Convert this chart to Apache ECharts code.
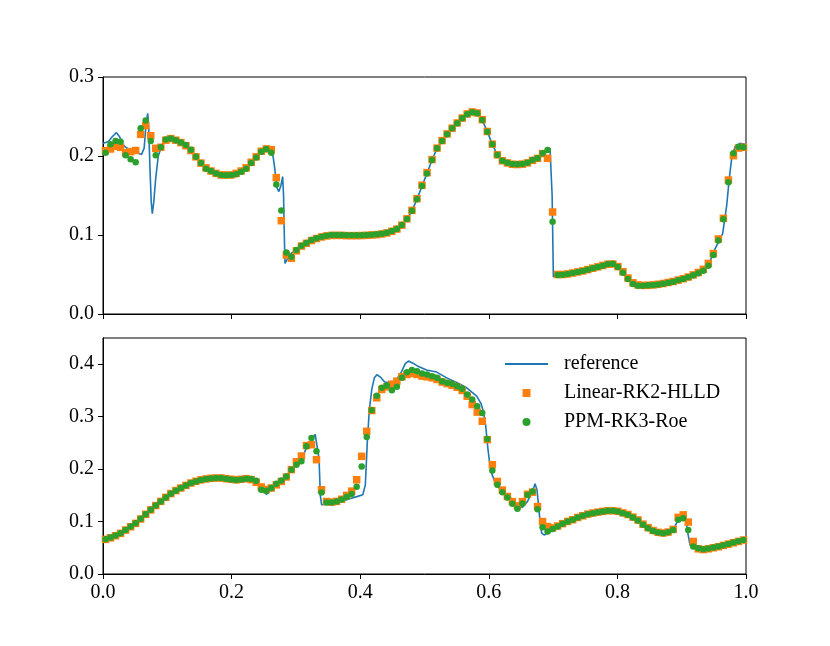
<!DOCTYPE html>
<html>
<head>
<meta charset="utf-8">
<script src="https://cdn.jsdelivr.net/npm/echarts@6/dist/echarts.min.js"></script>
<style>
html,body{margin:0;padding:0;background:#fff;}
#chart{width:830px;height:646px;}
</style>
</head>
<body>
<div id="chart"></div>
<script>
// Cell count (cell-centred sample positions)
const nCells = 128;
const tickLabelsX = ['0.0','0.2','0.4','0.6','0.8','1.0'];
const seriesNames = ['reference','Linear-RK2-HLLD','PPM-RK3-Roe'];

// Top panel
const topOrange = [0.2067,0.2089,0.2123,0.2110,0.2040,0.2055,0.2070,0.2274,0.2384,0.2257,0.2097,0.2110,
0.220,0.222,0.220,0.217,0.213,0.207,0.199,0.191,0.185,0.181,0.178,0.176,
0.176,0.176,0.178,0.181,0.185,0.192,0.199,0.206,0.209,0.208,0.1726,0.1181,
0.0747,0.0705,0.080,0.086,0.0895,0.093,0.0955,0.0975,0.0988,0.0995,0.0995,0.0995,
0.0992,0.0992,0.0992,0.0993,0.0996,0.1000,0.1005,0.1013,0.1026,0.1047,0.1075,0.1125,
0.1205,0.1312,0.1460,0.1630,0.1790,0.1955,0.2100,0.2195,0.2280,0.2352,0.2418,0.2480,
0.2532,0.2558,0.2545,0.2460,0.2310,0.2150,0.2015,0.1940,0.1912,0.1895,0.1892,0.1897,
0.1913,0.1945,0.1970,0.2030,0.1970,0.1291,0.0500,0.0500,0.0507,0.0519,0.0532,0.0545,
0.0562,0.0580,0.0597,0.0614,0.0630,0.0632,0.0600,0.0535,0.0455,0.0395,0.0368,0.0362,
0.0363,0.0368,0.0376,0.0386,0.0399,0.0412,0.0429,0.0447,0.0468,0.0495,0.0525,0.0565,
0.0640,0.0765,0.0950,0.1211,0.1696,0.2004,0.2100,0.2110];

const topGreen = [0.204,0.215,0.219,0.218,0.201,0.196,0.192,0.235,0.245,0.219,0.201,0.211,
0.221,0.222,0.220,0.217,0.214,0.208,0.199,0.191,0.184,0.181,0.178,0.176,
0.1755,0.176,0.177,0.180,0.184,0.191,0.198,0.2055,0.209,0.204,0.164,0.131,
0.078,0.0726,0.081,0.0865,0.090,0.0937,0.0958,0.0979,0.0992,0.100,0.100,0.100,
0.0996,0.0996,0.0996,0.0996,0.100,0.1004,0.1009,0.1017,0.103,0.1051,0.1076,0.1127,
0.1203,0.1308,0.1451,0.162,0.178,0.195,0.2097,0.219,0.2274,0.235,0.2414,0.2477,
0.2528,0.2553,0.254,0.2456,0.2308,0.2148,0.2013,0.194,0.1916,0.1899,0.1895,0.1899,
0.1916,0.1949,0.197,0.2034,0.2076,0.1169,0.0494,0.0498,0.0506,0.0519,0.0532,0.0544,
0.0561,0.0578,0.0595,0.0612,0.0633,0.0637,0.0595,0.0523,0.0443,0.038,0.0359,0.0359,
0.0363,0.0367,0.0375,0.0384,0.0397,0.0409,0.0426,0.0443,0.0464,0.0489,0.0515,0.0549,
0.0612,0.0747,0.0929,0.1198,0.1667,0.2034,0.2118,0.2110];

const topRef = [[0.000,0.216],[0.008,0.218],[0.015,0.225],[0.021,0.2295],[0.026,0.224],[0.031,0.214],[0.037,0.210],[0.045,0.207],[0.053,0.204],[0.060,0.202],[0.064,0.210],[0.067,0.240],[0.0695,0.254],[0.071,0.238],[0.073,0.185],[0.075,0.142],[0.0767,0.127],[0.079,0.142],[0.082,0.172],[0.086,0.200],[0.092,0.215],[0.0977,0.221],[0.1055,0.2225],[0.1133,0.2205],[0.1211,0.217],[0.1289,0.213],[0.1367,0.207],[0.1445,0.199],[0.1523,0.191],[0.1602,0.185],[0.168,0.181],[0.1758,0.178],[0.1836,0.176],[0.1914,0.1755],[0.1992,0.176],[0.207,0.1775],[0.2148,0.1805],[0.2227,0.185],[0.2305,0.191],[0.2383,0.198],[0.2461,0.205],[0.2539,0.209],[0.2600,0.210],[0.2635,0.205],[0.2670,0.185],[0.2705,0.160],[0.2735,0.155],[0.2765,0.162],[0.2794,0.174],[0.2808,0.150],[0.2820,0.100],[0.2830,0.064],[0.2850,0.066],[0.2872,0.0705],[0.2930,0.077],[0.3008,0.081],[0.3086,0.0865],[0.3164,0.090],[0.3242,0.0937],[0.332,0.0958],[0.3398,0.0979],[0.3477,0.0992],[0.3555,0.100],[0.3711,0.100],[0.3867,0.0996],[0.4023,0.0996],[0.418,0.1004],[0.4258,0.101],[0.4336,0.1017],[0.4414,0.103],[0.4492,0.1051],[0.457,0.1076],[0.4648,0.1127],[0.4727,0.1203],[0.4805,0.1308],[0.4883,0.1451],[0.4961,0.162],[0.5039,0.178],[0.5117,0.195],[0.5195,0.2097],[0.5273,0.219],[0.5352,0.2274],[0.543,0.235],[0.5508,0.2414],[0.5586,0.2477],[0.5664,0.2528],[0.5742,0.2555],[0.582,0.254],[0.5898,0.2456],[0.5977,0.2308],[0.6055,0.2148],[0.6133,0.2013],[0.6211,0.194],[0.6289,0.1916],[0.6367,0.1899],[0.6445,0.1895],[0.6523,0.1899],[0.6602,0.1916],[0.668,0.1949],[0.6758,0.197],[0.6836,0.2034],[0.6914,0.2076],[0.6952,0.2097],[0.6985,0.150],[0.7004,0.047],[0.7070,0.0494],[0.7148,0.0498],[0.7227,0.0506],[0.7305,0.0519],[0.7383,0.0532],[0.7461,0.0544],[0.7539,0.0561],[0.7617,0.0578],[0.7695,0.0595],[0.7773,0.0612],[0.7852,0.0633],[0.793,0.0637],[0.8008,0.0595],[0.8086,0.0523],[0.8164,0.0443],[0.8242,0.038],[0.832,0.0359],[0.8398,0.0359],[0.8477,0.0363],[0.8555,0.0367],[0.8633,0.0375],[0.8711,0.0384],[0.8789,0.0397],[0.8867,0.0409],[0.8945,0.0426],[0.9023,0.0443],[0.9102,0.0464],[0.918,0.0489],[0.9258,0.0515],[0.9336,0.0549],[0.9414,0.0612],[0.9507,0.0805],[0.957,0.0911],[0.9637,0.1017],[0.970,0.1376],[0.974,0.1713],[0.9777,0.197],[0.983,0.2118],[0.9907,0.216],[1.000,0.2145]];

// Bottom panel
const botOrange = [0.0660,0.0690,0.0730,0.0775,0.0838,0.0900,0.0965,0.1048,0.1138,0.1222,0.1305,0.1385,
0.1462,0.1533,0.1590,0.1640,0.1690,0.1735,0.1768,0.1795,0.1812,0.1825,0.1830,0.1830,
0.1818,0.1806,0.1795,0.1806,0.1818,0.1800,0.1750,0.1660,0.1610,0.1640,0.1700,0.1765,
0.1850,0.1990,0.2140,0.2250,0.2449,0.2465,0.2180,0.1606,0.1383,0.1370,0.1385,0.1425,
0.1500,0.1580,0.1797,0.2244,0.2721,0.3117,0.3359,0.3518,0.3569,0.3620,0.3677,0.3760,
0.3805,0.3824,0.3805,0.3773,0.3760,0.3741,0.3709,0.3660,0.3630,0.3600,0.3560,0.3500,
0.3390,0.3230,0.3087,0.2913,0.2562,0.2084,0.1765,0.1600,0.1478,0.1380,0.1300,0.1380,
0.1520,0.1560,0.1287,0.1000,0.0905,0.0880,0.0915,0.0960,0.1003,0.1035,0.1078,0.1110,
0.1142,0.1162,0.1180,0.1194,0.1207,0.1207,0.1195,0.1165,0.1135,0.1085,0.1030,0.0950,
0.0885,0.0830,0.0795,0.0782,0.0800,0.0850,0.1080,0.1128,0.0990,0.0620,0.0480,0.0465,
0.0480,0.0500,0.0520,0.0545,0.0570,0.0596,0.0622,0.0648];

const botGreen = [0.0663,0.0695,0.0733,0.0778,0.0841,0.0905,0.0969,0.1052,0.1141,0.1224,0.1306,0.1383,
0.1459,0.1530,0.1587,0.1638,0.1689,0.1734,0.1765,0.1791,0.1810,0.1823,0.1829,0.1829,
0.1816,0.1804,0.1791,0.1804,0.1816,0.1810,0.1778,0.1606,0.1587,0.1638,0.1721,0.1785,
0.1861,0.1989,0.2084,0.2148,0.2435,0.2594,0.2339,0.1555,0.1364,0.1364,0.1383,0.1420,
0.1470,0.1527,0.1663,0.2052,0.2610,0.3123,0.3400,0.3550,0.3595,0.3505,0.3569,0.3741,
0.3849,0.3888,0.3868,0.3824,0.3805,0.3773,0.3741,0.3677,0.3646,0.3627,0.3581,0.3531,
0.3423,0.3327,0.3199,0.3072,0.2575,0.1975,0.1702,0.1560,0.1460,0.1338,0.1243,0.1345,
0.1505,0.1574,0.1237,0.0892,0.0809,0.0860,0.0905,0.0956,0.1001,0.1033,0.1077,0.1109,
0.1141,0.1160,0.1179,0.1192,0.1205,0.1205,0.1192,0.1160,0.1128,0.1077,0.1020,0.0937,
0.0873,0.0822,0.0790,0.0778,0.0797,0.0841,0.1033,0.1065,0.0841,0.0523,0.0491,0.0472,
0.0485,0.0503,0.0523,0.0548,0.0574,0.0599,0.0625,0.0650];

const botRef = [[0.000,0.0655],[0.0117,0.0695],[0.0195,0.0733],[0.0273,0.0778],[0.0352,0.0841],[0.043,0.0905],[0.0508,0.0969],[0.0586,0.1052],[0.0664,0.1141],[0.0742,0.1224],[0.082,0.1306],[0.0898,0.1383],[0.0977,0.1459],[0.1055,0.153],[0.1133,0.1587],[0.1211,0.1638],[0.1289,0.1689],[0.1367,0.1734],[0.1445,0.1765],[0.1523,0.1791],[0.1602,0.181],[0.168,0.1823],[0.1758,0.1829],[0.1836,0.1829],[0.1914,0.1816],[0.1992,0.1804],[0.207,0.1795],[0.2148,0.180],[0.2227,0.181],[0.2305,0.181],[0.2383,0.178],[0.2440,0.170],[0.2500,0.158],[0.2540,0.152],[0.2580,0.156],[0.2617,0.1638],[0.2695,0.1721],[0.2773,0.1785],[0.2852,0.1861],[0.293,0.1989],[0.3008,0.2084],[0.3086,0.2200],[0.3164,0.240],[0.3250,0.258],[0.3300,0.266],[0.3330,0.264],[0.3360,0.220],[0.3380,0.150],[0.3400,0.132],[0.3480,0.133],[0.3600,0.135],[0.3720,0.139],[0.3850,0.144],[0.3960,0.148],[0.4040,0.151],[0.4080,0.170],[0.4110,0.250],[0.4140,0.310],[0.4180,0.352],[0.4220,0.374],[0.4260,0.380],[0.4310,0.376],[0.4380,0.366],[0.4450,0.365],[0.4550,0.368],[0.4640,0.385],[0.4700,0.401],[0.4750,0.406],[0.4820,0.402],[0.4900,0.396],[0.5030,0.389],[0.5190,0.385],[0.5345,0.374],[0.5500,0.365],[0.5656,0.355],[0.5812,0.339],[0.5880,0.325],[0.5915,0.310],[0.5950,0.285],[0.5985,0.240],[0.6010,0.215],[0.6050,0.190],[0.6100,0.174],[0.6148,0.1657],[0.6250,0.153],[0.6350,0.144],[0.6445,0.132],[0.6520,0.127],[0.6600,0.138],[0.6680,0.157],[0.6719,0.172],[0.6750,0.160],[0.6790,0.110],[0.6822,0.078],[0.6860,0.0745],[0.6914,0.077],[0.6992,0.083],[0.707,0.088],[0.7148,0.093],[0.7227,0.098],[0.7305,0.101],[0.7383,0.1055],[0.7461,0.109],[0.7539,0.1125],[0.7617,0.115],[0.7695,0.117],[0.7773,0.119],[0.7852,0.1205],[0.793,0.1205],[0.8008,0.119],[0.8086,0.116],[0.8164,0.1125],[0.8242,0.107],[0.832,0.101],[0.8398,0.093],[0.8477,0.087],[0.8555,0.082],[0.8633,0.079],[0.8711,0.078],[0.8789,0.0795],[0.8867,0.084],[0.8920,0.097],[0.8990,0.108],[0.9040,0.113],[0.9070,0.100],[0.9100,0.075],[0.9130,0.055],[0.9180,0.049],[0.9258,0.047],[0.9336,0.0472],[0.9414,0.0485],[0.9492,0.0503],[0.957,0.0523],[0.9648,0.0548],[0.9727,0.0574],[0.9805,0.0599],[0.9883,0.0625],[1.000,0.0655]];

const xs = Array.from({length: nCells}, (_, i) => (i + 0.5) / nCells);
const pair = arr => arr.map((v, i) => [xs[i], v]);

const FONT = 'Liberation Serif';
const blue = '#1f77b4', orange = '#ff7f0e', green = '#2ca02c';

function xAxisCfg(gi, showLabels) {
  return {
    gridIndex: gi, type: 'value', min: 0, max: 1, interval: 0.2,
    axisLine: {show: true, onZero: false, lineStyle: {color: '#000', width: 1}},
    axisTick: {show: true, length: 5, inside: false, lineStyle: {color: '#000', width: 1}},
    axisLabel: {show: showLabels, formatter: v => tickLabelsX[Math.round(v / 0.2)], fontFamily: FONT, fontSize: 20, color: '#000', margin: 9},
    splitLine: {show: false}
  };
}
function yAxisCfg(gi, max, ticks) {
  return {
    gridIndex: gi, type: 'value', min: 0, max: max, interval: 0.1,
    axisLine: {show: true, lineStyle: {color: '#000', width: 1}},
    axisTick: {show: true, length: 5, lineStyle: {color: '#000', width: 1}, customValues: ticks},
    axisLabel: {formatter: v => v.toFixed(1), fontFamily: FONT, fontSize: 20, color: '#000', margin: 9, customValues: ticks},
    splitLine: {show: false}
  };
}

const chart = echarts.init(document.getElementById('chart'), null, {renderer: 'canvas'});
chart.setOption({
  animation: false,
  backgroundColor: '#fff',
  grid: [
    {left: 103, top: 77, width: 643, height: 237, show: true, borderColor: '#000', borderWidth: 1, backgroundColor: 'transparent'},
    {left: 103, top: 338, width: 643, height: 236, show: true, borderColor: '#000', borderWidth: 1, backgroundColor: 'transparent'}
  ],
  xAxis: [xAxisCfg(0, false), xAxisCfg(1, true)],
  yAxis: [yAxisCfg(0, 0.3, [0, 0.1, 0.2, 0.3]), yAxisCfg(1, 0.45, [0, 0.1, 0.2, 0.3, 0.4])],
  legend: {
    show: true, orient: 'vertical', left: 505, top: 354, padding: 0,
    itemWidth: 43, itemHeight: 8, itemGap: 9, symbolKeepAspect: true,
    data: [
      {name: seriesNames[0], icon: 'path://M0,0H43V2H0Z', itemStyle: {color: blue}},
      {name: seriesNames[1], icon: 'path://M0,0H10V10H0Z', itemStyle: {color: orange}},
      {name: seriesNames[2], icon: 'circle', itemStyle: {color: green}}
    ],
    textStyle: {fontFamily: FONT, fontSize: 20, color: '#000', lineHeight: 20, padding: [0, 0, 0, 11]}
  },
  series: [
    {name: seriesNames[0], type: 'line', xAxisIndex: 0, yAxisIndex: 0, data: topRef, symbol: 'none', z: 2,
     lineStyle: {color: blue, width: 1.6}, itemStyle: {color: blue}},
    {name: seriesNames[1], type: 'scatter', xAxisIndex: 0, yAxisIndex: 0, data: pair(topOrange), symbol: 'rect', symbolSize: 7.5, z: 3,
     itemStyle: {color: orange, opacity: 1}},
    {name: seriesNames[2], type: 'scatter', xAxisIndex: 0, yAxisIndex: 0, data: pair(topGreen), symbol: 'circle', symbolSize: 6.5, z: 4,
     itemStyle: {color: green, opacity: 1}},
    {name: seriesNames[0], type: 'line', xAxisIndex: 1, yAxisIndex: 1, data: botRef, symbol: 'none', z: 2,
     lineStyle: {color: blue, width: 1.6}, itemStyle: {color: blue}},
    {name: seriesNames[1], type: 'scatter', xAxisIndex: 1, yAxisIndex: 1, data: pair(botOrange), symbol: 'rect', symbolSize: 7.5, z: 3,
     itemStyle: {color: orange, opacity: 1}},
    {name: seriesNames[2], type: 'scatter', xAxisIndex: 1, yAxisIndex: 1, data: pair(botGreen), symbol: 'circle', symbolSize: 6.5, z: 4,
     itemStyle: {color: green, opacity: 1}}
  ]
});
</script>
</body>
</html>
